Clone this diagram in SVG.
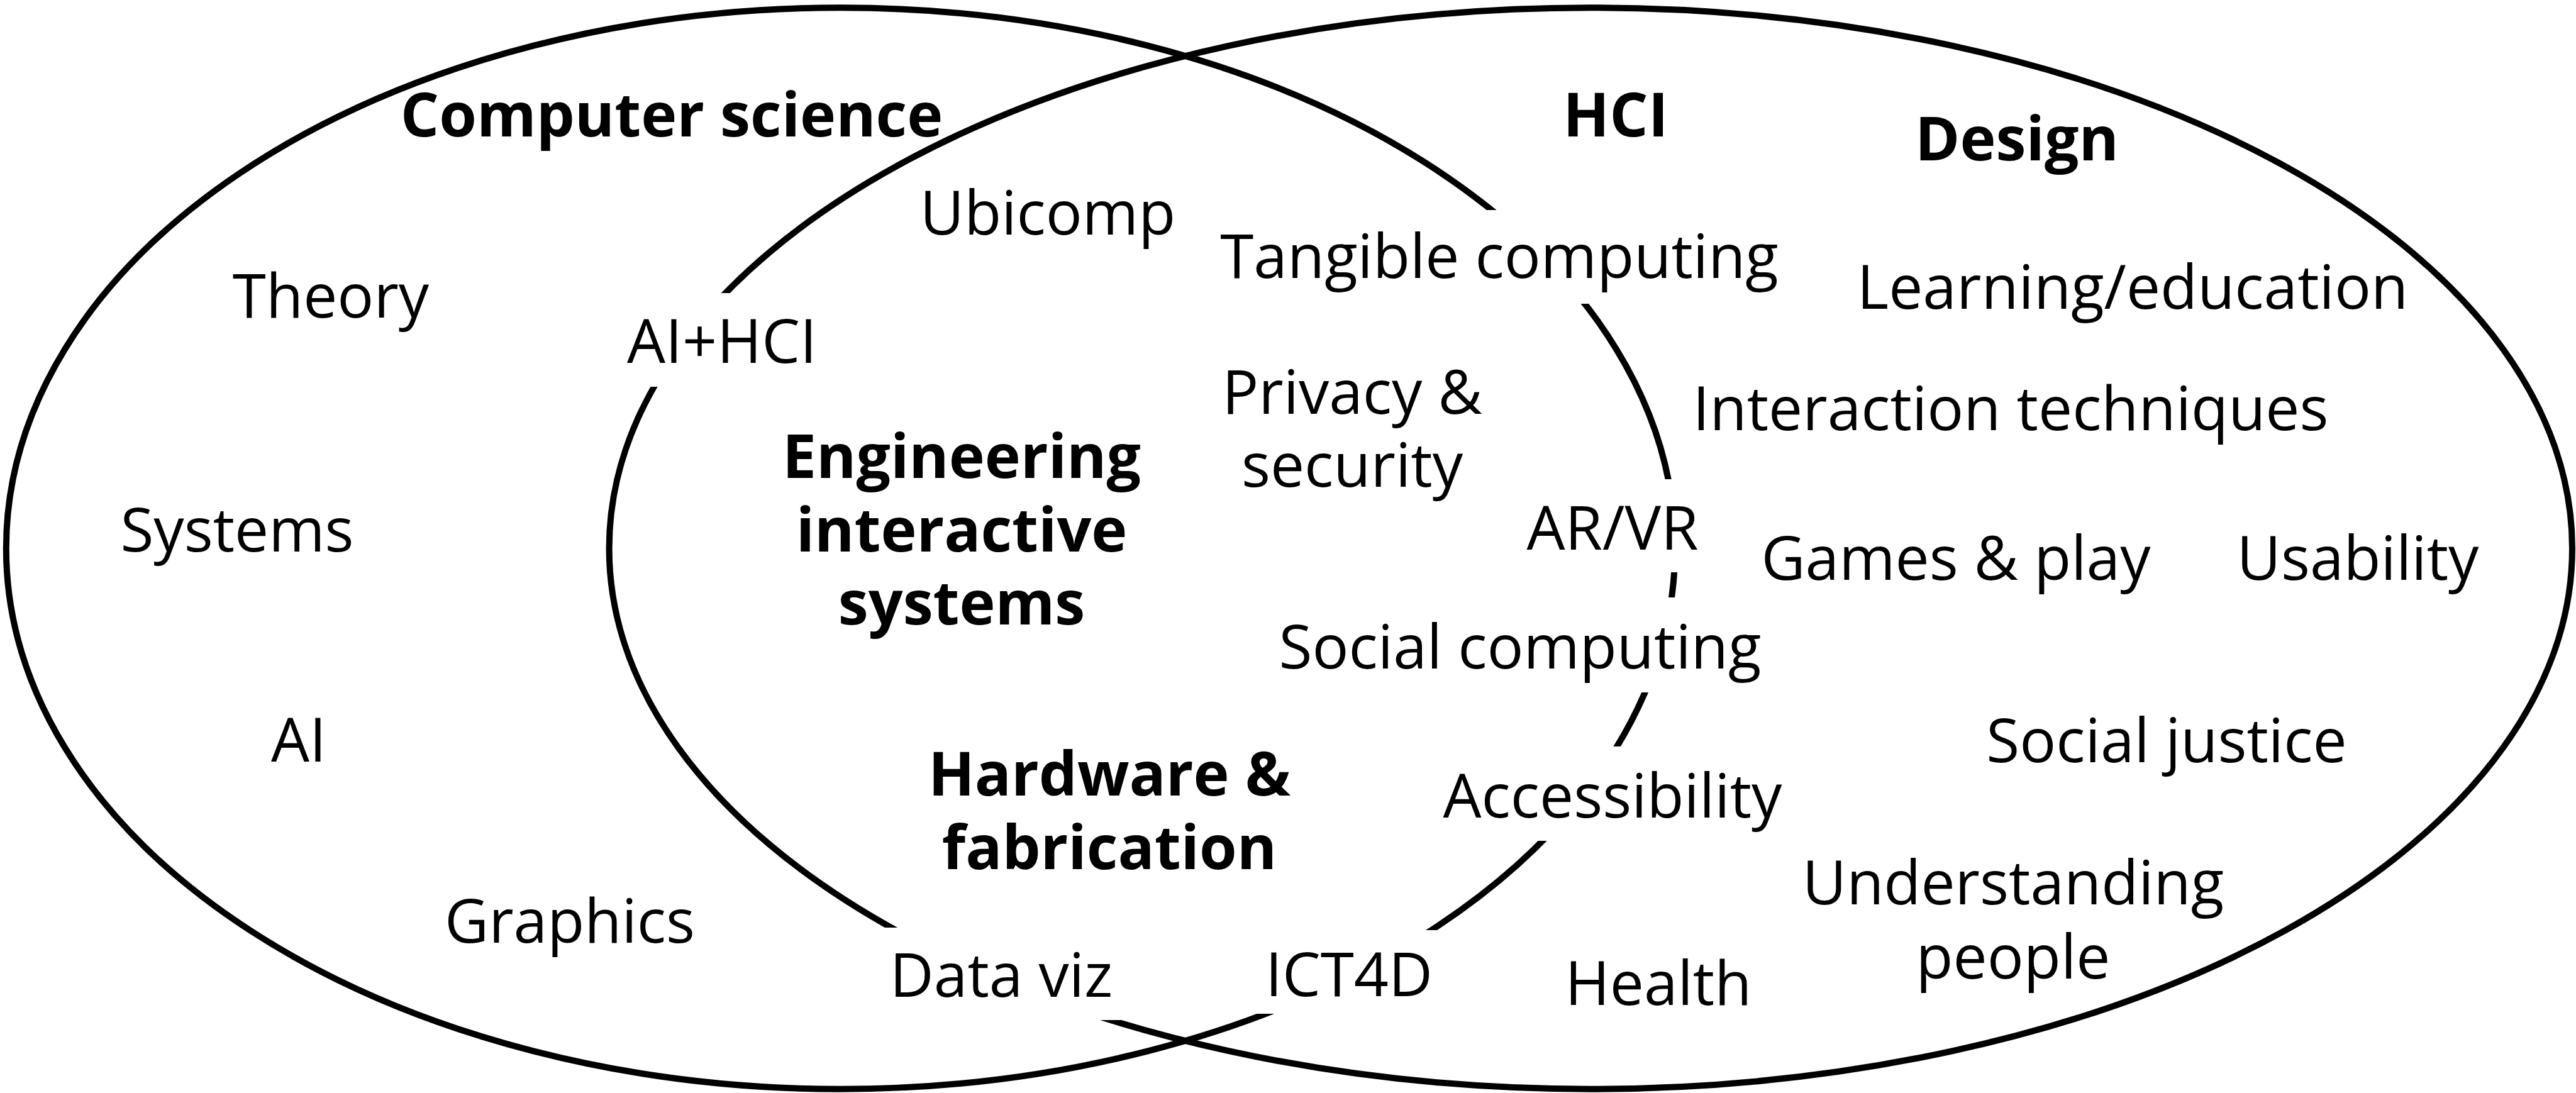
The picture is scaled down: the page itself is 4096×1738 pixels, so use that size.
<svg xmlns="http://www.w3.org/2000/svg" width="4096" height="1738" viewBox="0 0 4096 1738">
<style>
.ring{fill:none;stroke:#000;stroke-width:10}
.mask{fill:#fff;stroke:none}
text{font-family:"Open Sans","Noto Sans","DejaVu Sans",sans-serif;font-size:96.5px;fill:#000;text-anchor:middle}
.b{font-weight:700}
</style>
<rect x="0" y="0" width="4096" height="1738" fill="#fff"/>
<g id="regions">
<ellipse id="cs-ring" class="ring" cx="1336.6" cy="872" rx="1326.8" ry="859.7"/>
<ellipse id="design-ring" class="ring" cx="2529.3" cy="872" rx="1560.7" ry="859.7"/>
</g>
<g id="masks">
<rect class="mask" x="982" y="466" width="331" height="149"/>
<rect class="mask" x="1930" y="334" width="908" height="149"/>
<rect class="mask" x="2413" y="762" width="303" height="148"/>
<rect class="mask" x="2020" y="950" width="794" height="151"/>
<rect class="mask" x="2282" y="1187" width="565" height="150"/>
<rect class="mask" x="1375" y="1475" width="416" height="147"/>
<rect class="mask" x="1990" y="1479" width="320" height="133"/>
</g>
<g id="connectors"/>
<g id="title-cs"><text class="b" x="1068" y="217">Computer science</text></g>
<g id="title-hci"><text class="b" x="2569" y="217">HCI</text></g>
<g id="title-design"><text class="b" x="3207" y="255">Design</text></g>
<g id="ubicomp"><text x="1666" y="373">Ubicomp</text></g>
<g id="tangible"><text x="2384" y="442">Tangible computing</text></g>
<g id="learning"><text x="3391" y="491">Learning/education</text></g>
<g id="theory"><text x="526" y="505">Theory</text></g>
<g id="aihci"><text x="1148" y="577">AI+HCI</text></g>
<g id="privacy"><text x="2150" y="658">Privacy &amp;</text><text x="2150" y="774">security</text></g>
<g id="interaction"><text x="3197" y="684">Interaction techniques</text></g>
<g id="eis"><text class="b" x="1529" y="760">Engineering</text><text class="b" x="1529" y="877">interactive</text><text class="b" x="1529" y="993">systems</text></g>
<g id="systems"><text x="377" y="877">Systems</text></g>
<g id="arvr"><text x="2564" y="874">AR/VR</text></g>
<g id="games"><text x="3110" y="922">Games &amp; play</text></g>
<g id="usability"><text x="3749" y="922">Usability</text></g>
<g id="social"><text x="2417" y="1063">Social computing</text></g>
<g id="ai"><text x="475" y="1211">AI</text></g>
<g id="justice"><text x="3445" y="1212">Social justice</text></g>
<g id="hardware"><text class="b" x="1764" y="1265">Hardware &amp;</text><text class="b" x="1764" y="1382">fabrication</text></g>
<g id="accessibility"><text x="2564" y="1300">Accessibility</text></g>
<g id="understanding"><text x="3201" y="1438">Understanding</text><text x="3201" y="1556">people</text></g>
<g id="graphics"><text x="906" y="1499">Graphics</text></g>
<g id="dataviz"><text x="1592" y="1585">Data viz</text></g>
<g id="ict4d"><text x="2145" y="1584">ICT4D</text></g>
<g id="health"><text x="2637" y="1598">Health</text></g>
</svg>
